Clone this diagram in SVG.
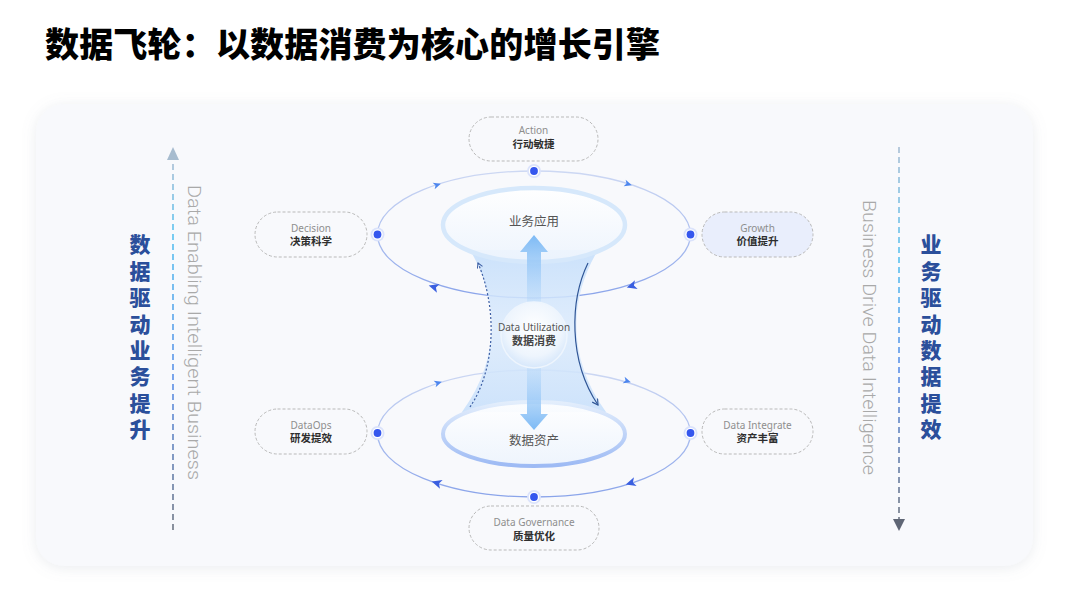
<svg xmlns="http://www.w3.org/2000/svg" width="1080" height="591" viewBox="0 0 1080 591">
<defs>
<style>
.en{font-family:"Noto Sans","Liberation Sans",sans-serif;font-size:10px;fill:#8e8e8e;text-anchor:middle}
.cn{font-family:"Noto Sans CJK SC",sans-serif;font-size:10.5px;font-weight:700;fill:#2e2e2e;text-anchor:middle}
.pill{fill:none;stroke:#b9b9b9;stroke-width:1;stroke-dasharray:3 2}
.side{font-family:"Noto Sans CJK SC",sans-serif;font-size:21px;font-weight:900;fill:#2b4f9b;writing-mode:vertical-rl;letter-spacing:5.4px}
.vert{font-family:"Roboto","Liberation Sans",sans-serif;font-weight:300;font-size:19px;fill:#a9a9a9}
.core{font-family:"Noto Sans CJK SC",sans-serif;font-size:12.5px;fill:#555;text-anchor:middle}
</style>
<filter id="sh" x="-5%" y="-10%" width="110%" height="120%">
<feDropShadow dx="0" dy="2" stdDeviation="7" flood-color="#8a94a8" flood-opacity="0.18"/>
</filter>
<linearGradient id="ring" x1="0" y1="0" x2="0" y2="1">
<stop offset="0" stop-color="#cdd8f3"/>
<stop offset="1" stop-color="#8aa4ea"/>
</linearGradient>
<linearGradient id="glass" x1="0" y1="0" x2="0" y2="1">
<stop offset="0" stop-color="#c4defb"/>
<stop offset="0.5" stop-color="#dcebfc"/>
<stop offset="1" stop-color="#c6dffb"/>
</linearGradient>
<linearGradient id="topIn" x1="0" y1="0" x2="0" y2="1">
<stop offset="0" stop-color="#ffffff"/>
<stop offset="1" stop-color="#edf4fd"/>
</linearGradient>
<linearGradient id="botStroke" x1="0" y1="0" x2="0" y2="1">
<stop offset="0" stop-color="#e3eefc"/>
<stop offset="1" stop-color="#9dbaf4"/>
</linearGradient>
<linearGradient id="upA" x1="0" y1="0" x2="0" y2="1">
<stop offset="0" stop-color="#7dbaf5"/>
<stop offset="1" stop-color="#a9d1f8" stop-opacity="0.3"/>
</linearGradient>
<linearGradient id="dnA" x1="0" y1="0" x2="0" y2="1">
<stop offset="0" stop-color="#a9d1f8" stop-opacity="0.3"/>
<stop offset="1" stop-color="#7dbaf5"/>
</linearGradient>
<radialGradient id="ball" cx="0.5" cy="0.4" r="0.6">
<stop offset="0" stop-color="#ffffff"/>
<stop offset="0.7" stop-color="#eef5fd"/>
<stop offset="1" stop-color="#d6e7fb"/>
</radialGradient>
<linearGradient id="leftLine" gradientUnits="userSpaceOnUse" x1="0" y1="530" x2="0" y2="160">
<stop offset="0" stop-color="#6e7684"/>
<stop offset="0.4" stop-color="#5b8fe8"/>
<stop offset="0.8" stop-color="#58c2f0"/>
<stop offset="1" stop-color="#a8bed4"/>
</linearGradient>
<linearGradient id="rightLine" gradientUnits="userSpaceOnUse" x1="0" y1="147" x2="0" y2="519">
<stop offset="0" stop-color="#a8bed4"/>
<stop offset="0.3" stop-color="#58c2f0"/>
<stop offset="0.6" stop-color="#5b8fe8"/>
<stop offset="1" stop-color="#6e7684"/>
</linearGradient>
<path id="ahS" d="M4,0 L-3.5,-3.4 L-1.5,0 L-3.5,3.4 Z" fill="#4d86ee"/>
<path id="ahL" d="M5.5,0 L-4.5,-4.6 L-2,0 L-4.5,4.6 Z" fill="#3a5fe0"/>
<g id="dot">
<circle r="7" fill="#dbe3fb"/>
<circle r="5.2" fill="#ffffff"/>
<circle r="3.9" fill="#3557ee"/>
</g>
<marker id="chev" viewBox="0 0 10 10" refX="8" refY="5" markerWidth="7" markerHeight="7" orient="auto" markerUnits="userSpaceOnUse">
<path d="M1,1 L8,5 L1,9" fill="none" stroke="#3d5fa5" stroke-width="1.4"/>
</marker>
<marker id="chev2" viewBox="0 0 10 10" refX="8" refY="5" markerWidth="8" markerHeight="8" orient="auto" markerUnits="userSpaceOnUse">
<path d="M1,1 L8,5 L1,9" fill="none" stroke="#2f5596" stroke-width="1.4"/>
</marker>
</defs>
<rect width="1080" height="591" fill="#ffffff"/>
<text x="45" y="57" font-family="'Noto Sans CJK SC',sans-serif" font-size="34" font-weight="900" fill="#000" textLength="615" lengthAdjust="spacing">数据飞轮：以数据消费为核心的增长引擎</text>
<rect x="36" y="104" width="997" height="462" rx="28" fill="#f8f9fc" filter="url(#sh)"/>

<g id="left-axis">
<line x1="173" y1="530" x2="173" y2="160" stroke="url(#leftLine)" stroke-width="1.6" stroke-dasharray="6 4"/>
<path d="M173,147 L179,160 L167,160 Z" fill="#a7bccf"/>
<text class="vert" transform="translate(188,185) rotate(90)" textLength="295" lengthAdjust="spacingAndGlyphs">Data Enabling Intelligent Business</text>
<text class="side" x="140" y="234">数据驱动业务提升</text>
</g>

<g id="right-axis">
<line x1="899" y1="147" x2="899" y2="519" stroke="url(#rightLine)" stroke-width="1.6" stroke-dasharray="6 4"/>
<path d="M899,531 L905,519 L893,519 Z" fill="#5f6675"/>
<text class="vert" transform="translate(863,200) rotate(90)" textLength="275" lengthAdjust="spacingAndGlyphs">Business Drive Data Intelligence</text>
<text class="side" x="931" y="234">业务驱动数据提效</text>
</g>

<g id="connectors">
<ellipse cx="534" cy="234.5" rx="156.5" ry="63.5" fill="none" stroke="url(#ring)" stroke-width="1.3"/>
<ellipse cx="534" cy="433.5" rx="156.5" ry="63.5" fill="none" stroke="url(#ring)" stroke-width="1.3"/>
<use href="#ahS" transform="translate(437,185) rotate(-17)"/>
<use href="#ahS" transform="translate(628,184) rotate(17)"/>
<use href="#ahL" transform="translate(434,287) rotate(197)"/>
<use href="#ahL" transform="translate(632,286) rotate(163)"/>
<use href="#ahS" transform="translate(438,383) rotate(-17)"/>
<use href="#ahS" transform="translate(627,381) rotate(17)"/>
<use href="#ahL" transform="translate(437,483) rotate(197)"/>
<use href="#ahL" transform="translate(631,483) rotate(163)"/>
<use href="#dot" x="534" y="171"/>
<use href="#dot" x="377.5" y="234.5"/>
<use href="#dot" x="690.5" y="234.5"/>
<use href="#dot" x="377.5" y="433"/>
<use href="#dot" x="690.5" y="433"/>
<use href="#dot" x="534" y="497"/>
</g>

<g id="core">
<path d="M470,250 C500,300 500,360 462,412 L606,412 C568,360 568,300 598,250 Z" fill="url(#glass)" opacity="0.85"/>
<ellipse cx="534" cy="225" rx="91" ry="37" fill="url(#topIn)" fill-opacity="0.92" stroke="#d6e8fb" stroke-width="4.5"/>
<ellipse cx="534" cy="434" rx="91" ry="32" fill="url(#topIn)" fill-opacity="0.92" stroke="url(#botStroke)" stroke-width="4"/>
<path d="M534,235 L548,252 L541,252 L541,302 L527,302 L527,252 L520,252 Z" fill="url(#upA)"/>
<path d="M534,430 L548,414 L541,414 L541,366 L527,366 L527,414 L520,414 Z" fill="url(#dnA)"/>
<path d="M470,407 C495,370 498,310 478,263" fill="none" stroke="#3d5fa5" stroke-width="1.2" stroke-dasharray="2 2" marker-end="url(#chev)"/>
<path d="M588,263 C570,300 568,360 598,405" fill="none" stroke="#2f5596" stroke-width="1.2" marker-end="url(#chev2)"/>
<circle cx="534" cy="335" r="33" fill="url(#ball)" stroke="#eef5fd" stroke-width="1.5"/>
<text class="core" x="534" y="226">业务应用</text>
<text class="core" x="534" y="445">数据资产</text>
<text class="en" x="534" y="330.5" style="fill:#555;font-size:10px">Data Utilization</text>
<text class="cn" x="534" y="345" style="font-size:11px;font-weight:600;fill:#444">数据消费</text>
</g>

<g id="node-action">
<rect class="pill" x="469" y="117" width="129" height="44" rx="22"/>
<text class="en" x="533.5" y="134">Action</text>
<text class="cn" x="533.5" y="147.5">行动敏捷</text>
</g>
<g id="node-decision">
<rect class="pill" x="255" y="212" width="112" height="45" rx="22.5"/>
<text class="en" x="311" y="231.5">Decision</text>
<text class="cn" x="311" y="244.5">决策科学</text>
</g>
<g id="node-growth">
<rect class="pill" x="702" y="212" width="111" height="45" rx="22.5" style="fill:#e9eefc"/>
<text class="en" x="757.5" y="231.5">Growth</text>
<text class="cn" x="757.5" y="244.5">价值提升</text>
</g>
<g id="node-dataops">
<rect class="pill" x="255" y="409" width="112" height="45" rx="22.5"/>
<text class="en" x="311" y="428.5">DataOps</text>
<text class="cn" x="311" y="441.5">研发提效</text>
</g>
<g id="node-integrate">
<rect class="pill" x="702" y="409" width="111" height="45" rx="22.5"/>
<text class="en" x="757.5" y="428.5">Data Integrate</text>
<text class="cn" x="757.5" y="441.5">资产丰富</text>
</g>
<g id="node-governance">
<rect class="pill" x="469" y="506" width="130" height="44" rx="22"/>
<text class="en" x="534" y="525.5">Data Governance</text>
<text class="cn" x="534" y="540">质量优化</text>
</g>
</svg>
